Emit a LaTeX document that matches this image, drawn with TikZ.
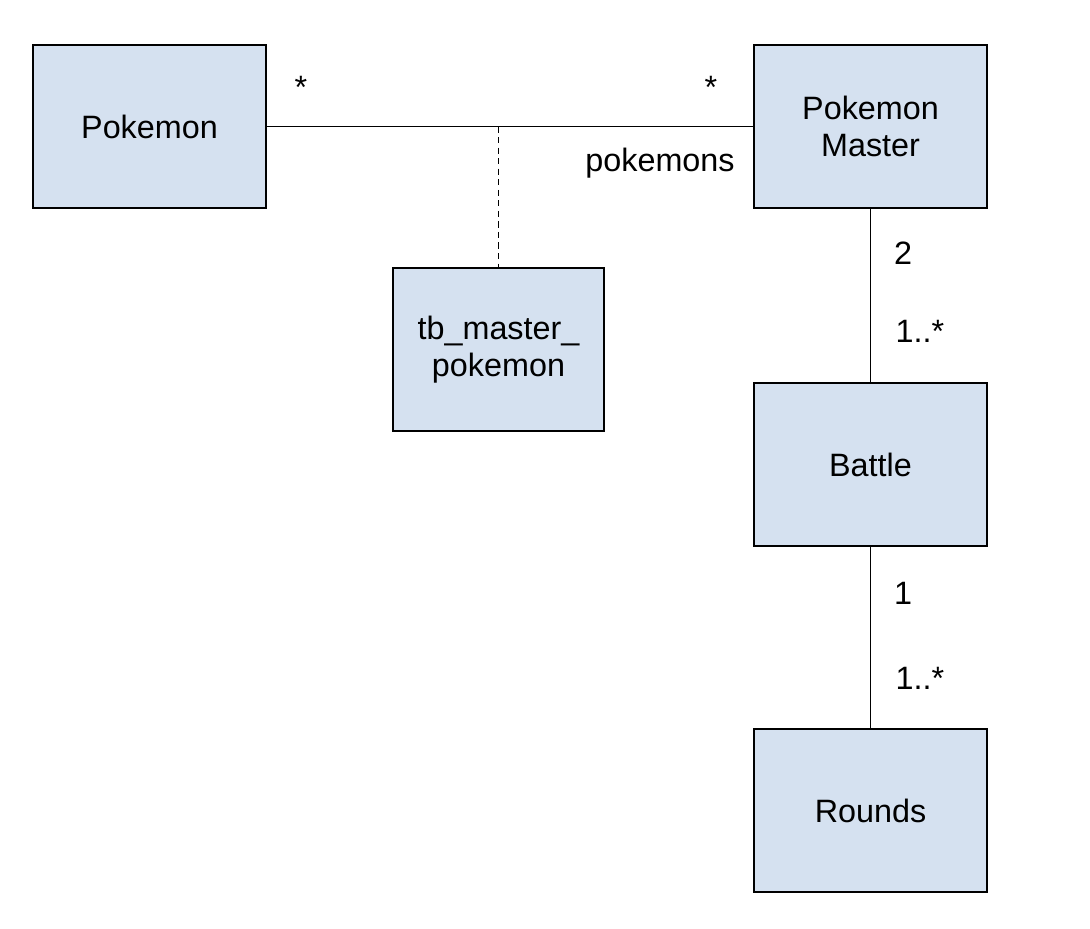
\documentclass[tikz,border=0pt]{standalone}
\usepackage{fontspec}
\setmainfont{Liberation Sans}
\definecolor{boxblue}{RGB}{213,225,240}

\begin{document}
\begin{tikzpicture}
    \tikzstyle{every node}=[font=\fontsize{18.4}{21.3}\selectfont]
    \tikzstyle{entity}=[draw, fill=boxblue, line width=0.8pt, align=center,
      minimum width=4.66cm, minimum height=3.26cm, inner sep=0pt]
    \tikzstyle{mult}=[inner sep=0pt]
    \def\x{17.41}
    \useasboundingbox (0,0) rectangle (21.8,-18.56);
    \node[entity] (pokemon) at (2.99,-2.53) {Pokemon};
    \node[entity] (master) at (\x,-2.53) {Pokemon\\Master};
    \node[entity, minimum width=4.22cm] (tbmp) at (9.97,-6.99) {tb\_master\_\\pokemon};
    \node[entity] (battle) at (\x,-9.29) {Battle};
    \node[entity] (rounds) at (\x,-16.21) {Rounds};
    % Draw the associations
    \coordinate (assoc) at (9.97,-2.53);
    \draw[line width=0.75pt] (pokemon) -- (master);
    \draw[line width=0.75pt, dash pattern=on 3.5pt off 2.5pt] (assoc) -- (tbmp);
    \draw[line width=0.75pt] (master) -- (battle);
    \draw[line width=0.75pt] (battle) -- (rounds);
    % Multiplicities
    \node[mult] (pkstar) at (6.02,-1.75) {*};
    \node[mult] (mastar) at (14.22,-1.75) {*};
    \node[mult] (role) at (13.2,-3.26) {pokemons};
    \node[mult] (mtwo) at (18.06,-5.06) {2};
    \node[mult] (bmany) at (18.4,-6.63) {1..*};
    \node[mult] (bone) at (18.06,-11.86) {1};
    \node[mult] (rmany) at (18.4,-13.56) {1..*};
  \end{tikzpicture}
\end{document}
